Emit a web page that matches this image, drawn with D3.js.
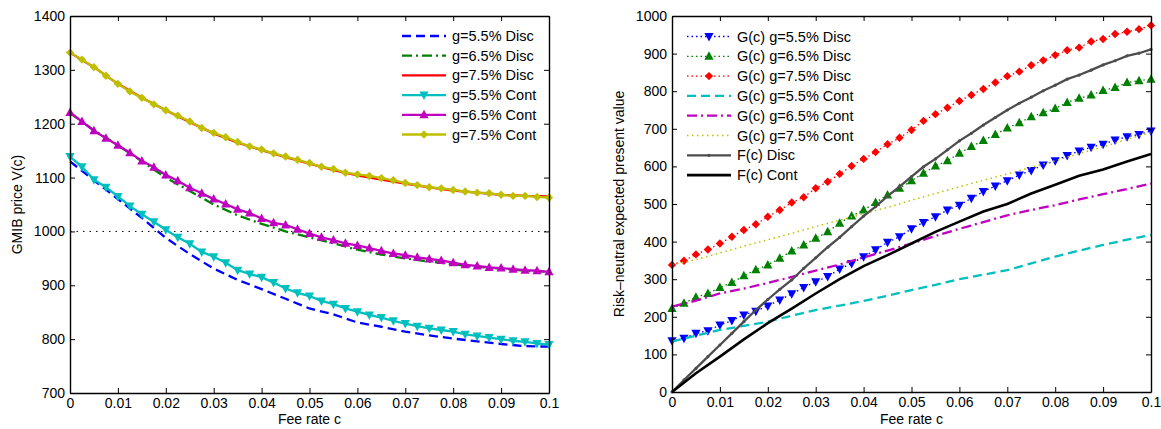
<!DOCTYPE html>
<html>
<head>
<meta charset="utf-8">
<script src="https://cdn.jsdelivr.net/npm/d3@7/dist/d3.min.js"></script>
<style>
body { margin: 0; background: #fff; }
text { font-family: "Liberation Sans", Arial, sans-serif; fill: #000; }
</style>
</head>
<body>
<script>
// fee rate grids
var fee41 = [0,0.0025,0.005,0.0075,0.01,0.0125,0.015,0.0175,0.02,0.0225,0.025,0.0275,0.03,0.0325,0.035,0.0375,0.04,0.0425,0.045,0.0475,0.05,
             0.0525,0.055,0.0575,0.06,0.0625,0.065,0.0675,0.07,0.0725,0.075,0.0775,0.08,0.0825,0.085,0.0875,0.09,0.0925,0.095,0.0975,0.1];
var fee21 = [0,0.005,0.01,0.015,0.02,0.025,0.03,0.035,0.04,0.045,0.05,0.055,0.06,0.065,0.07,0.075,0.08,0.085,0.09,0.095,0.1];

var xTicks = [0,0.01,0.02,0.03,0.04,0.05,0.06,0.07,0.08,0.09,0.1];
var xTickLabels = ["0","0.01","0.02","0.03","0.04","0.05","0.06","0.07","0.08","0.09","0.1"];
var leftYTicks = [700,800,900,1000,1100,1200,1300,1400];
var leftYTickLabels = ["700","800","900","1000","1100","1200","1300","1400"];
var rightYTicks = [0,100,200,300,400,500,600,700,800,900,1000];
var rightYTickLabels = ["0","100","200","300","400","500","600","700","800","900","1000"];

// left panel: GMIB price V(c)
var vDisc55 = [1130,1095,1060,1025,988,958,931,910,893,875,857,846,831,823,814,807,801,796,791,787,786];
var vDisc65 = [1220,1188,1160,1130,1100,1075,1050,1030,1014,1000,989,978,966,957,950,944,939,934,931,927,925];
var vDisc75 = [1332,1305,1274,1248,1225,1203,1182,1165,1151,1138,1126,1114,1104,1096,1089,1082,1076,1072,1068,1066,1065];
var vCont55 = [1139,1120,1096,1082,1065,1047,1032,1018,1003,989,977,962,953,942,928,921,915,905,894,886,880,
               871,865,857,851,845,840,834,829,824,820,817,814,809,806,803,800,797,795,792,790];
var vCont65 = [1221,1204,1187,1173,1160,1146,1131,1119,1105,1094,1081,1071,1060,1051,1041,1034,1024,1016,1012,1004,996,
               989,984,978,974,969,964,959,956,952,949,946,942,938,936,933,932,930,928,927,925];
var vCont75 = [1332,1319,1305,1289,1274,1260,1248,1236,1225,1215,1204,1192,1183,1175,1166,1158,1152,1145,1139,1133,1127,
               1120,1116,1109,1106,1103,1099,1095,1090,1086,1082,1080,1077,1074,1072,1071,1068,1066,1066,1064,1063];
var parLine = [1000,1000];

// right panel: risk-neutral expected present value
var gDisc55 = [136,143,156,163,178,190,205,215,229,245,261,278,293,307,327,342,360,378,398,413,434,
               451,466,484,497,515,533,548,562,577,589,604,615,629,641,651,659,670,679,685,694];
var gDisc65 = [222,236,252,262,278,291,309,325,338,356,375,391,409,426,449,468,484,504,524,542,562,
               582,601,615,635,653,669,685,702,716,732,743,754,770,781,790,802,810,823,828,832];
var gDisc75 = [338,349,366,379,395,413,431,446,466,484,504,518,542,559,580,601,620,638,659,676,697,
               721,739,756,774,790,806,823,840,852,869,882,896,909,916,932,939,952,958,965,975];
var gCont55 = [134,150,165,176,187,203,218,230,242,256,271,285,300,312,324,342,360,376,391,405,418];
var gCont65 = [227,243,262,275,290,306,323,339,358,376,395,415,434,452,470,484,497,512,526,540,554];
var gCont75 = [338,352,370,388,405,422,440,457,474,491,510,528,546,563,580,598,615,634,652,672,690];
var fDisc = [0,32,63,94,125,156,187,218,246,273,298,329,357,385,411,440,468,493,521,546,573,
             599,620,644,668,688,710,730,750,768,784,801,816,832,843,856,870,881,894,901,911];
var fCont = [0,50,94,140,183,222,262,300,335,364,395,426,453,480,500,528,551,575,592,613,633];

// marker shapes
var markers = {
  down: "M0,5L4.6,-3.5L-4.6,-3.5Z",
  up: "M0,-5L4.6,3.5L-4.6,3.5Z",
  diamond: "M0,-4.2L4.2,0L0,4.2L-4.2,0Z",
  dot: "M-1.6,0A1.6,1.6,0,1,0,1.6,0A1.6,1.6,0,1,0,-1.6,0Z"
};

var svg = d3.select("body").append("svg")
    .attr("width", 1161)
    .attr("height", 429);

function drawPanel(p) {
  var x = d3.scaleLinear().domain([0, 0.1]).range([p.left, p.right]);
  var y = d3.scaleLinear().domain(p.ydomain).range([p.bottom, p.top]);
  var g = svg.append("g");

  var line = d3.line()
      .x(function(d) { return x(d[0]); })
      .y(function(d) { return y(d[1]); });

  // series
  p.series.forEach(function(s) {
    var pts = s.x.map(function(c, i) { return [c, s.y[i]]; });
    g.append("path")
        .attr("d", line(pts))
        .attr("fill", "none")
        .attr("stroke", s.color)
        .attr("stroke-width", s.width)
        .attr("stroke-dasharray", s.dash || null);
    if (s.marker) {
      g.selectAll(null)
        .data(pts)
        .enter().append("path")
          .attr("d", markers[s.marker])
          .attr("transform", function(d) { return "translate(" + x(d[0]) + "," + y(d[1]) + ")"; })
          .attr("fill", s.color);
    }
  });

  // axes, ticks inside like matlab
  g.append("g").attr("transform", "translate(0," + p.bottom + ")")
      .call(d3.axisBottom(x).tickValues(xTicks).tickSize(-5).tickSizeOuter(0).tickPadding(5)
            .tickFormat(function(d, i) { return xTickLabels[i]; }));
  g.append("g").attr("transform", "translate(0," + p.top + ")")
      .call(d3.axisTop(x).tickValues(xTicks).tickSize(-5).tickSizeOuter(0).tickFormat(""));
  g.append("g").attr("transform", "translate(" + p.left + ",0)")
      .call(d3.axisLeft(y).tickValues(p.yticks).tickSize(-5).tickSizeOuter(0).tickPadding(5)
            .tickFormat(function(d, i) { return p.ylabels[i]; }));
  g.append("g").attr("transform", "translate(" + p.right + ",0)")
      .call(d3.axisRight(y).tickValues(p.yticks).tickSize(-5).tickSizeOuter(0).tickFormat(""));

  g.selectAll(".domain").attr("stroke", "#000").attr("stroke-width", 1.4);
  g.selectAll(".tick line").attr("stroke", "#000").attr("stroke-width", 1);
  g.selectAll(".tick text").attr("font-size", 14).attr("font-family", "Liberation Sans, Arial, sans-serif").attr("fill", "#000");

  // axis labels
  g.append("text")
      .attr("x", (p.left + p.right) / 2)
      .attr("y", 424)
      .attr("text-anchor", "middle")
      .attr("font-size", 14)
      .text("Fee rate c");
  g.append("text")
      .attr("transform", "translate(" + p.ylabelX + "," + ((p.top + p.bottom) / 2) + ") rotate(-90)")
      .attr("text-anchor", "middle")
      .attr("font-size", 14)
      .text(p.ylabel);

  // legend, no box
  p.series.forEach(function(s, i) {
    if (!s.label) return;
    var ly = p.legendY + (i - p.legendSkip) * p.legendStep;
    g.append("line")
        .attr("x1", p.legendX).attr("x2", p.legendX + 44)
        .attr("y1", ly).attr("y2", ly)
        .attr("stroke", s.color)
        .attr("stroke-width", s.width)
        .attr("stroke-dasharray", s.dash || null);
    if (s.marker) {
      g.append("path")
          .attr("d", markers[s.marker])
          .attr("transform", "translate(" + (p.legendX + 22) + "," + ly + ")")
          .attr("fill", s.color);
    }
    g.append("text")
        .attr("x", p.legendX + 50)
        .attr("y", ly + 5)
        .attr("font-size", 14.5)
        .text(s.label);
  });
}

drawPanel({
  left: 70, right: 549, top: 16, bottom: 393,
  ydomain: [700, 1400], yticks: leftYTicks, ylabels: leftYTickLabels,
  ylabel: "GMIB price V(c)", ylabelX: 22,
  legendX: 402, legendY: 36, legendStep: 19.7, legendSkip: 1,
  series: [
    {x: [0, 0.1], y: parLine, color: "#000", width: 1, dash: "1.5,5"},
    {x: fee21, y: vDisc55, color: "#0000ff", width: 2.3, dash: "9,5", label: "g=5.5% Disc"},
    {x: fee21, y: vDisc65, color: "#008000", width: 2.3, dash: "10,4,2,4", label: "g=6.5% Disc"},
    {x: fee21, y: vDisc75, color: "#ff0000", width: 2.3, label: "g=7.5% Disc"},
    {x: fee41, y: vCont55, color: "#00bfbf", width: 2.3, marker: "down", label: "g=5.5% Cont"},
    {x: fee41, y: vCont65, color: "#bf00bf", width: 2.3, marker: "up", label: "g=6.5% Cont"},
    {x: fee41, y: vCont75, color: "#bfbf00", width: 2.3, marker: "diamond", label: "g=7.5% Cont"}
  ]
});

drawPanel({
  left: 672, right: 1151, top: 16, bottom: 392,
  ydomain: [0, 1000], yticks: rightYTicks, ylabels: rightYTickLabels,
  ylabel: "Risk\u2013neutral expected present value", ylabelX: 624,
  legendX: 687, legendY: 36.5, legendStep: 19.8, legendSkip: 0,
  series: [
    {x: fee41, y: gDisc55, color: "#0000ff", width: 1.3, dash: "1.5,3", marker: "down", label: "G(c) g=5.5% Disc"},
    {x: fee41, y: gDisc65, color: "#008000", width: 1.3, dash: "1.5,3", marker: "up", label: "G(c) g=6.5% Disc"},
    {x: fee41, y: gDisc75, color: "#ff0000", width: 1.3, dash: "1.5,3", marker: "diamond", label: "G(c) g=7.5% Disc"},
    {x: fee21, y: gCont55, color: "#00bfbf", width: 2.3, dash: "9,5", label: "G(c) g=5.5% Cont"},
    {x: fee21, y: gCont65, color: "#bf00bf", width: 2.3, dash: "10,4,2,4", label: "G(c) g=6.5% Cont"},
    {x: fee21, y: gCont75, color: "#bfbf00", width: 1.5, dash: "1.5,3.5", label: "G(c) g=7.5% Cont"},
    {x: fee41, y: fDisc, color: "#4d4d4d", width: 2.3, marker: "dot", label: "F(c) Disc"},
    {x: fee21, y: fCont, color: "#000000", width: 2.6, label: "F(c) Cont"}
  ]
});
</script>
</body>
</html>
